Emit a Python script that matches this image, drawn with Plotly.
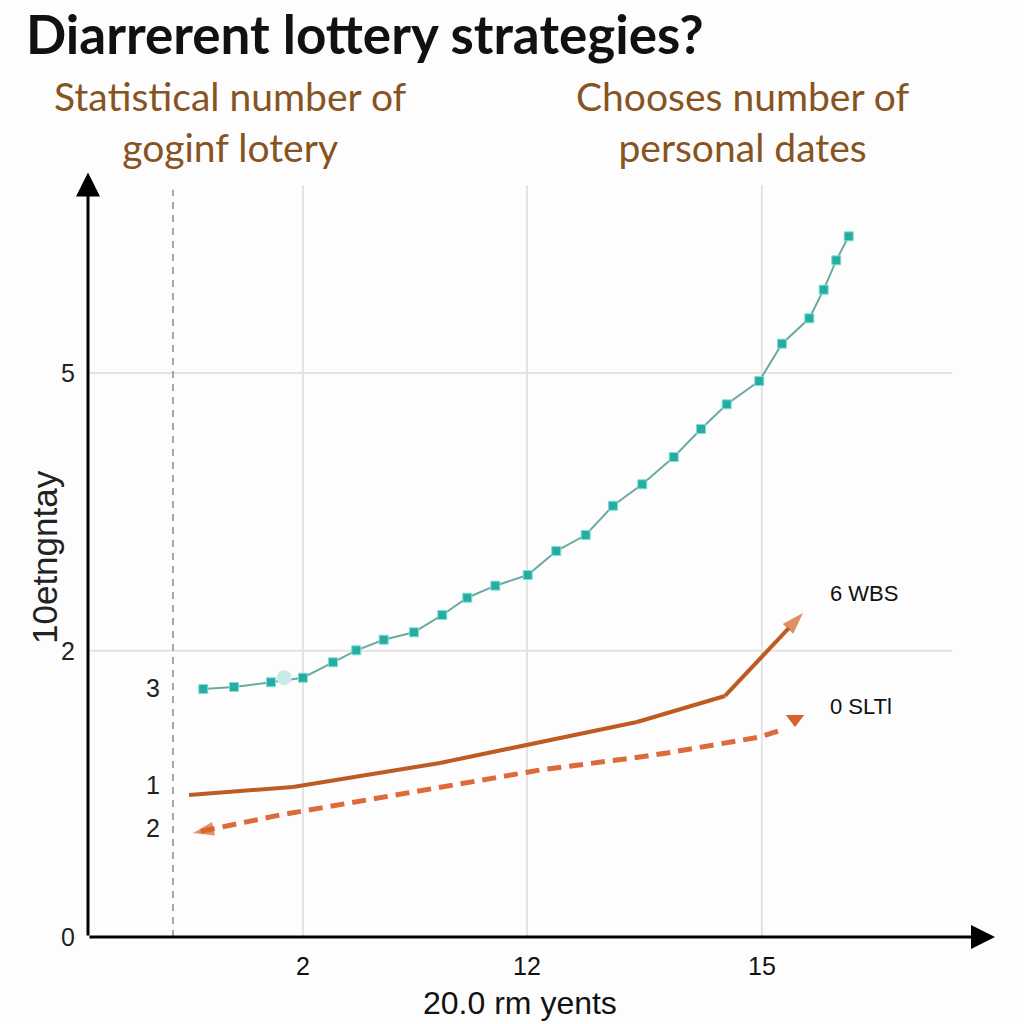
import plotly.graph_objects as go

# ---------------- data (axis units 0..100 on both axes) ----------------
teal_x = [12.71, 16.10, 20.18, 23.70, 27.01, 29.58, 32.60, 35.94, 39.06, 41.82, 44.91,
          48.48, 51.63, 54.87, 57.88, 61.11, 64.58, 67.59, 70.42, 74.01, 76.52, 79.53,
          81.11, 82.50, 83.87]
teal_y = [32.76, 33.03, 33.65, 34.25, 36.29, 37.87, 39.27, 40.25, 42.54, 44.82, 46.41,
          47.82, 50.99, 53.10, 56.97, 59.80, 63.41, 67.11, 70.37, 73.45, 78.38, 81.73,
          85.51, 89.39, 92.56]
highlight_x = [21.64]
highlight_y = [34.25]

solid_x = [11.14, 22.60, 38.81, 48.40, 60.53, 70.23, 78.83]
solid_y = [18.76, 19.82, 22.99, 25.36, 28.40, 31.84, 42.80]

dashed_x = [76.07, 74.09, 63.84, 60.86, 49.83, 38.81, 21.17, 11.58]
dashed_y = [27.21, 26.42, 24.31, 23.78, 22.06, 19.82, 16.12, 13.74]
dashed_tip_x = [77.95]
dashed_tip_y = [28.80]

x_tick_vals = [23.7, 48.4, 74.3]
x_tick_text = ["2", "12", "15"]
y_tick_vals = [74.5, 37.8, 0]
y_tick_text = ["5", "2", "0"]
grid_y = [74.5, 37.8]
ref_line_x = 9.37

side_labels = ["3", "1", "2"]
side_label_y = [32.9, 20.1, 14.4]
end_labels = ["6 WBS", "0 SLTl"]
end_label_y = [45.4, 30.4]

title = "Diarrerent lottery strategies?"
sub_left = "Statistical number of<br>goginf lotery"
sub_right = "Chooses number of<br>personal dates"
x_title = "20.0 rm yents"
y_title = "10etngntay"

TEXT_FONT = "Liberation Sans, Arial, sans-serif"
NARROW_FONT = "Liberation Sans Narrow, Arial Narrow, Liberation Sans, Arial, sans-serif"
BROWN = "#87531f"

fig = go.Figure()

# teal line with square markers
fig.add_trace(go.Scatter(
    x=teal_x, y=teal_y, mode="lines+markers",
    line=dict(color="#6aaaa3", width=2),
    marker=dict(symbol="square", size=9, color="#26ada0",
                line=dict(color="#7ee0d6", width=1)),
    cliponaxis=False, showlegend=False))
fig.add_trace(go.Scatter(
    x=highlight_x, y=highlight_y, mode="markers",
    marker=dict(symbol="circle", size=15, color="#c8ebe5"),
    cliponaxis=False, showlegend=False))

# solid orange line ending with an arrowhead
n_s = len(solid_x)
fig.add_trace(go.Scatter(
    x=solid_x, y=solid_y, mode="lines+markers",
    line=dict(color="#bd5b22", width=4),
    marker=dict(symbol=["circle"] * (n_s - 1) + ["arrow"],
                size=[0] * (n_s - 1) + [23],
                angleref="previous", color="#cf5f24",
                line=dict(width=0)),
    cliponaxis=False, showlegend=False))

# dashed orange line, arrowhead pointing left
n_d = len(dashed_x)
fig.add_trace(go.Scatter(
    x=dashed_x, y=dashed_y, mode="lines+markers",
    line=dict(color="#dc6a3a", width=5, dash="14px,8px"),
    marker=dict(symbol=["circle"] * (n_d - 1) + ["arrow"],
                size=[0] * (n_d - 1) + [22],
                angleref="previous", color="#d9622c",
                line=dict(width=0)),
    cliponaxis=False, showlegend=False))
fig.add_trace(go.Scatter(
    x=dashed_tip_x, y=dashed_tip_y, mode="markers",
    marker=dict(symbol="triangle-down", size=16, color="#d9622c", line=dict(width=0)),
    cliponaxis=False, showlegend=False))

shapes = []
# horizontal grid lines
for gy in grid_y:
    shapes.append(dict(type="line", xref="x", yref="y", x0=0, x1=95.3, y0=gy, y1=gy,
                       line=dict(color="#e3e3e3", width=2), layer="below"))
# vertical grid lines
for gx in x_tick_vals:
    shapes.append(dict(type="line", xref="x", yref="y", x0=gx, x1=gx, y0=0, y1=99.3,
                       line=dict(color="#e3e3e3", width=2), layer="below"))
# dashed reference line
shapes.append(dict(type="line", xref="x", yref="y", x0=ref_line_x, x1=ref_line_x,
                   y0=0, y1=98.7, line=dict(color="#a8a8a8", width=2, dash="7px,6px"),
                   layer="below"))

annotations = []
# axes with arrows
annotations.append(dict(x=0, y=101, ax=0, ay=0, xref="x", yref="y", axref="x", ayref="y",
                        showarrow=True, arrowhead=2, arrowsize=1.6, arrowwidth=3,
                        arrowcolor="black", text=""))
annotations.append(dict(x=100, y=0, ax=0, ay=0, xref="x", yref="y", axref="x", ayref="y",
                        showarrow=True, arrowhead=2, arrowsize=1.6, arrowwidth=3,
                        arrowcolor="black", text=""))

# title and subtitles
annotations.append(dict(x=24, y=34, xref="paper", yref="paper", text=f"<b>{title}</b>",
                        showarrow=False, xanchor="left", yanchor="middle",
                        font=dict(family="Lato, sans-serif", size=53, color="#111111")))
for sx, st in [(230, sub_left), (742, sub_right)]:
    annotations.append(dict(x=sx, y=121, xref="paper", yref="paper", text=st,
                            showarrow=False, xanchor="center", yanchor="middle",
                            align="center",
                            font=dict(family="Lato, sans-serif", size=39, color=BROWN)))

# side labels near the dashed line
for lab, ly in zip(side_labels, side_label_y):
    annotations.append(dict(x=8.2, y=ly, xref="x", yref="y", text=lab, showarrow=False,
                            xanchor="right", yanchor="middle",
                            font=dict(family=TEXT_FONT, size=25, color="#222222")))
# end labels
for lab, ly in zip(end_labels, end_label_y):
    annotations.append(dict(x=81.6, y=ly, xref="x", yref="y", text=lab, showarrow=False,
                            xanchor="left", yanchor="middle",
                            font=dict(family=TEXT_FONT, size=22, color="#111111")))

# axis titles
annotations.append(dict(x=520, y=1003, xref="paper", yref="paper", text=x_title,
                        showarrow=False, xanchor="center", yanchor="middle",
                        font=dict(family=NARROW_FONT, size=32, color="#111111")))
annotations.append(dict(x=44, y=557, xref="paper", yref="paper", text=y_title,
                        showarrow=False, textangle=-90, xanchor="center", yanchor="middle",
                        font=dict(family=TEXT_FONT, size=35, color="#222222")))

# convert paper pixel coordinates to paper fractions
W, H = 1024, 1024
ML, MR, MT, MB = 88, 29, 180, 87
PW, PH = W - ML - MR, H - MT - MB
for a in annotations:
    if a.get("xref") == "paper":
        a["x"] = (a["x"] - ML) / PW
        a["y"] = (H - MB - a["y"]) / PH

fig.update_layout(
    width=W, height=H,
    margin=dict(l=ML, r=MR, t=MT, b=MB, pad=0),
    paper_bgcolor="#fdfdfd", plot_bgcolor="#fdfdfd",
    shapes=shapes, annotations=annotations,
    showlegend=False,
    xaxis=dict(range=[0, 100], showgrid=False, zeroline=False, showline=False,
               tickmode="array", tickvals=x_tick_vals, ticktext=x_tick_text,
               ticks="", ticklabelstandoff=12,
               tickfont=dict(family=NARROW_FONT, size=25, color="#111111")),
    yaxis=dict(range=[0, 100], showgrid=False, zeroline=False, showline=False,
               tickmode="array", tickvals=y_tick_vals, ticktext=y_tick_text,
               ticks="", ticklabelstandoff=12,
               tickfont=dict(family=TEXT_FONT, size=25, color="#222222")),
)

fig.write_html("out.html")
